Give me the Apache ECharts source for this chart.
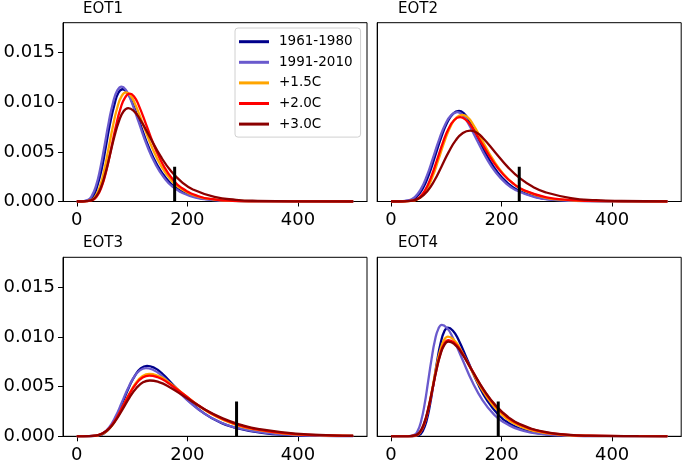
<!DOCTYPE html>
<html><head><meta charset="utf-8">
<script src="https://cdn.jsdelivr.net/npm/echarts@6/dist/echarts.min.js"></script>
<style>html,body{margin:0;padding:0;background:#fff}#c{width:685px;height:465px}</style>
</head><body><div id="c"></div>
<script>
const panelTitles = ['EOT1', 'EOT2', 'EOT3', 'EOT4'];
const periods = ['1961-1980', '1991-2010', '+1.5C', '+2.0C', '+3.0C'];
const xTicks = [0, 200, 400];
const yTicks = [0, 0.005, 0.010, 0.015];
const markerX = [177, 232, 289, 194];
const markerTop = 0.0035;

const eot1_1961 = [[0,0],[7,0.000002],[22,0.00014],[30,0.00056],[37,0.00156],[45,0.00327],[52.5,0.00551],[60,0.00783],[68,0.00974],[75,0.01092],[83,0.0113],[91,0.01098],[99,0.01016],[114.5,0.00782],[130,0.00548],[146,0.00363],[162,0.00232],[177.5,0.00146],[209,0.00055],[240.5,0.00021],[272,0.00008],[335,0.00001],[500,0]];
const eot1_1991 = [[0,0],[4,0.000002],[19.4,0.000143],[27.1,0.000573],[34.8,0.001594],[42.5,0.003344],[50.2,0.005643],[57.9,0.008018],[65.6,0.009973],[73.3,0.011184],[81,0.01157],[88.7,0.011241],[96.4,0.010401],[111.8,0.008006],[127.2,0.005611],[142.6,0.003717],[158,0.002378],[173.4,0.00149],[204.2,0.000566],[235,0.000211],[265.8,0.000078],[327.4,0.00001],[500,0]];
const eot1_15 = [[0,0],[10.3,0.000002],[26,0.000136],[33.9,0.000544],[41.8,0.001513],[49.6,0.003173],[57.5,0.005355],[65.4,0.007609],[73.3,0.009465],[81.1,0.010613],[89,0.01098],[97,0.010668],[105,0.009871],[121,0.007598],[137,0.005325],[153,0.003528],[169,0.002256],[185,0.001414],[217,0.000537],[249,0.0002],[281,0.000074],[345,0.00001],[500,0]];
const eot1_20 = [[0,0],[11,0.000002],[28,0.000135],[36.5,0.000537],[45,0.001495],[53.5,0.003136],[62,0.005292],[70.5,0.007519],[79,0.009353],[87.5,0.010488],[96,0.01085],[103.8,0.010542],[111.5,0.009754],[127,0.007508],[142.5,0.005262],[158,0.003486],[173.5,0.00223],[189,0.001397],[220,0.000531],[251,0.000197],[282,0.000073],[344,0.00001],[500,0]];
const eot1_30 = [[0,0],[9.3,0.000002],[26,0.000117],[34.4,0.000465],[42.8,0.001295],[51.1,0.002717],[59.5,0.004584],[67.9,0.006514],[76.3,0.008103],[84.6,0.009086],[93,0.0094],[102.8,0.009133],[112.5,0.008451],[132,0.006505],[151.5,0.004559],[171,0.00302],[190.5,0.001932],[210,0.001211],[249,0.00046],[288,0.000171],[327,0.000063],[405,0.000009],[500,0]];

const eot2_1961 = [[0,0],[13,0.000002],[35,0.000113],[46,0.000452],[57,0.001258],[68,0.002639],[79,0.004453],[90,0.006327],[101,0.00787],[112,0.008825],[123,0.00913],[131.8,0.008871],[140.5,0.008208],[158,0.006318],[175.5,0.004428],[193,0.002933],[210.5,0.001876],[228,0.001176],[263,0.000446],[298,0.000166],[333,0.000061],[403,0.000008],[500,0]];
const eot2_1991 = [[0,0],[10,0.000002],[32,0.000112],[43,0.000446],[54,0.00124],[65,0.002601],[76,0.004389],[87,0.006237],[98,0.007758],[109,0.008699],[120,0.009],[128.8,0.008744],[137.5,0.008091],[155,0.006228],[172.5,0.004365],[190,0.002892],[207.5,0.00185],[225,0.001159],[260,0.00044],[295,0.000164],[330,0.00006],[400,0.000008],[500,0]];
const eot2_15 = [[0,0],[21.5,0.000002],[43,0.000108],[53.8,0.000432],[64.5,0.001203],[75.3,0.002523],[86,0.004258],[96.8,0.00605],[107.5,0.007525],[118.3,0.008438],[129,0.00873],[138.3,0.008482],[147.5,0.007848],[166,0.006041],[184.5,0.004234],[203,0.002805],[221.5,0.001794],[240,0.001124],[277,0.000427],[314,0.000159],[351,0.000059],[425,0.000008],[500,0]];
const eot2_20 = [[0,0],[20,0.000001],[41,0.000105],[51.5,0.00042],[62,0.00117],[72.5,0.002454],[83,0.004141],[93.5,0.005884],[104,0.007318],[114.5,0.008206],[125,0.00849],[134.8,0.008249],[144.5,0.007633],[164,0.005875],[183.5,0.004118],[203,0.002728],[222.5,0.001745],[242,0.001094],[281,0.000415],[320,0.000155],[359,0.000057],[437,0.000008],[500,0]];
const eot2_30 = [[0,0],[13,0.000001],[39,0.000089],[52,0.000353],[65,0.000984],[78,0.002063],[91,0.003482],[104,0.004948],[117,0.006155],[130,0.006902],[143,0.00714],[154.4,0.006937],[165.8,0.006419],[188.6,0.004941],[211.4,0.003463],[234.2,0.002294],[257,0.001467],[279.8,0.00092],[325.4,0.000349],[371,0.00013],[416.6,0.000048],[500,0.000008]];

const eot3_1961 = [[0,0],[17.8,0.000001],[39.6,0.000088],[50.5,0.000351],[61.5,0.000977],[72.4,0.002049],[83.3,0.003458],[94.2,0.004913],[105.2,0.006112],[116.1,0.006853],[127,0.00709],[140,0.006889],[153,0.006374],[179,0.004906],[205,0.003439],[231,0.002278],[257,0.001457],[283,0.000913],[335,0.000347],[387,0.000129],[439,0.000048],[500,0.000015]];
const eot3_1991 = [[0,0],[15,0.000001],[37,0.000085],[48,0.00034],[59,0.000945],[70,0.001983],[81,0.003346],[92,0.004754],[103,0.005913],[114,0.006631],[125,0.00686],[138.5,0.006665],[152,0.006167],[179,0.004747],[206,0.003327],[233,0.002204],[260,0.00141],[287,0.000884],[341,0.000335],[395,0.000125],[449,0.000046],[500,0.000018]];
const eot3_15 = [[0,0],[13.5,0.000001],[37,0.000078],[48.8,0.000311],[60.5,0.000865],[72.3,0.001815],[84,0.003063],[95.8,0.004352],[107.5,0.005413],[119.3,0.00607],[131,0.00628],[146,0.006102],[161,0.005646],[191,0.004346],[221,0.003046],[251,0.002018],[281,0.001291],[311,0.000809],[371,0.000307],[431,0.000114],[491,0.000042],[500,0.000037]];
const eot3_20 = [[0,0],[11,0.000001],[35,0.000076],[47,0.000302],[59,0.000842],[71,0.001766],[83,0.00298],[95,0.004234],[107,0.005267],[119,0.005906],[131,0.00611],[146.5,0.005936],[162,0.005493],[193,0.004228],[224,0.002963],[255,0.001963],[286,0.001256],[317,0.000787],[379,0.000299],[441,0.000111],[500,0.000043]];
const eot3_30 = [[0,0],[9.5,0.000001],[34,0.00007],[46.3,0.000278],[58.5,0.000773],[70.8,0.001621],[83,0.002736],[95.3,0.003888],[107.5,0.004836],[119.8,0.005423],[132,0.00561],[148.5,0.005451],[165,0.005043],[198,0.003882],[231,0.002721],[264,0.001802],[297,0.001153],[330,0.000723],[396,0.000274],[462,0.000102],[500,0.000057]];

const eot4_1961 = [[0,0],[38,0.000002],[51,0.000136],[57.5,0.000541],[64,0.001506],[70.5,0.003159],[77,0.005331],[83.5,0.007574],[90,0.009422],[96.5,0.010565],[103,0.01093],[112,0.01062],[121,0.009826],[139,0.007564],[157,0.005301],[175,0.003512],[193,0.002246],[211,0.001408],[247,0.000534],[283,0.000199],[319,0.000073],[391,0.00001],[500,0]];
const eot4_1991 = [[0,0],[29.5,0.000002],[42,0.000139],[48.3,0.000554],[54.5,0.001543],[60.8,0.003237],[67,0.005462],[73.3,0.007762],[79.5,0.009654],[85.8,0.010826],[92,0.0112],[101.3,0.010882],[110.5,0.010069],[129,0.00775],[147.5,0.005432],[166,0.003599],[184.5,0.002302],[203,0.001443],[240,0.000548],[277,0.000204],[314,0.000075],[388,0.00001],[500,0]];
const eot4_15 = [[0,0],[33,0.000002],[47,0.000124],[54,0.000496],[61,0.001381],[68,0.002896],[75,0.004887],[82,0.006944],[89,0.008637],[96,0.009685],[103,0.01002],[113,0.009735],[123,0.009008],[143,0.006934],[163,0.00486],[183,0.003219],[203,0.002059],[223,0.001291],[263,0.00049],[303,0.000182],[343,0.000067],[423,0.000009],[500,0]];
const eot4_20 = [[0,0],[31.5,0.000002],[46,0.00012],[53.3,0.000479],[60.5,0.001334],[67.8,0.002798],[75,0.004721],[82.3,0.006708],[89.5,0.008344],[96.8,0.009357],[104,0.00968],[114.5,0.009405],[125,0.008702],[146,0.006699],[167,0.004695],[188,0.00311],[209,0.001989],[230,0.001247],[272,0.000473],[314,0.000176],[356,0.000065],[440,0.000009],[500,0]];
const eot4_30 = [[0,0],[30.3,0.000002],[45,0.000118],[52.4,0.000471],[59.8,0.001312],[67.1,0.002751],[74.5,0.004643],[81.9,0.006597],[89.3,0.008206],[96.6,0.009202],[104,0.00952],[114.8,0.00925],[125.5,0.008558],[147,0.006588],[168.5,0.004617],[190,0.003059],[211.5,0.001956],[233,0.001226],[276,0.000466],[319,0.000173],[362,0.000064],[448,0.000009],[500,0]];

const panelSeries = [
  [eot1_1961, eot1_1991, eot1_15, eot1_20, eot1_30],
  [eot2_1961, eot2_1991, eot2_15, eot2_20, eot2_30],
  [eot3_1961, eot3_1991, eot3_15, eot3_20, eot3_30],
  [eot4_1961, eot4_1991, eot4_15, eot4_20, eot4_30]
];

const FONT = 'DejaVu Sans';
const colors = ['#00008B', '#6A5ACD', '#FFA500', '#FF0000', '#8B0000'];
const gridPos = [
  {left: 63, top: 22.7, width: 304, height: 178.8},
  {left: 377.2, top: 22.7, width: 304, height: 178.8},
  {left: 63, top: 257.3, width: 304, height: 179},
  {left: 377.2, top: 257.3, width: 304, height: 179}
];
const titlePos = [[83, 9.5], [398, 9.5], [83, 242.8], [398, 242.8]];

const chart = echarts.init(document.getElementById('c'), null, {renderer: 'canvas'});

const grid = gridPos.map(g => Object.assign({show: true, borderColor: '#000', borderWidth: 1, backgroundColor: 'transparent'}, g));
const xAxis = gridPos.map((g, i) => ({
  type: 'value', gridIndex: i, min: -25, max: 525,
  axisLine: {show: true, onZero: false, lineStyle: {color: '#000', width: 1}},
  axisTick: {show: true, length: 5, lineStyle: {color: '#000', width: 1}, customValues: xTicks},
  axisLabel: {customValues: xTicks, fontFamily: FONT, fontSize: 18, color: '#000', margin: 10},
  splitLine: {show: false}
}));
const yAxis = gridPos.map((g, i) => ({
  type: 'value', gridIndex: i, min: 0, max: 0.018,
  axisLine: {show: true, onZero: false, lineStyle: {color: '#000', width: 1}},
  axisTick: {show: i % 2 === 0, length: 5, lineStyle: {color: '#000', width: 1}, customValues: yTicks},
  axisLabel: {show: i % 2 === 0, customValues: yTicks, fontFamily: FONT, fontSize: 18, color: '#000', margin: 8,
    formatter: v => Number(v).toFixed(3)},
  splitLine: {show: false}
}));

const series = [];
panelSeries.forEach((curves, i) => {
  curves.forEach((d, j) => {
    series.push({
      type: 'line', name: periods[j], xAxisIndex: i, yAxisIndex: i, data: d,
      showSymbol: false, symbol: 'none', smooth: 0.5,
      lineStyle: {color: colors[j], width: 2.3}, itemStyle: {color: colors[j]},
      z: 2, silent: true
    });
  });
  series.push({
    type: 'line', name: 'observed', xAxisIndex: i, yAxisIndex: i,
    data: [[markerX[i], 0], [markerX[i], markerTop]],
    showSymbol: false, symbol: 'none', lineStyle: {color: '#000', width: 3}, z: 3, silent: true
  });
});

chart.setOption({
  animation: false,
  backgroundColor: '#fff',
  grid, xAxis, yAxis, series,
  legend: {
    data: periods, orient: 'vertical', left: 235, top: 28,
    icon: 'rect', itemWidth: 30, itemHeight: 3, itemGap: 6.6,
    padding: [6.7, 8, 6, 4], borderColor: '#d0d0d0', borderWidth: 1, borderRadius: 3,
    backgroundColor: 'rgba(255,255,255,0.85)', selectedMode: false,
    textStyle: {fontFamily: FONT, fontSize: 13.5, color: '#000', lineHeight: 14, padding: [0, 0, 0, 5]}
  },
  graphic: panelTitles.map((t, i) => ({
    type: 'text', x: titlePos[i][0], y: titlePos[i][1], silent: true,
    style: {text: t, font: '15px "DejaVu Sans"', fill: '#000', verticalAlign: 'middle'}
  }))
});
</script></body></html>
